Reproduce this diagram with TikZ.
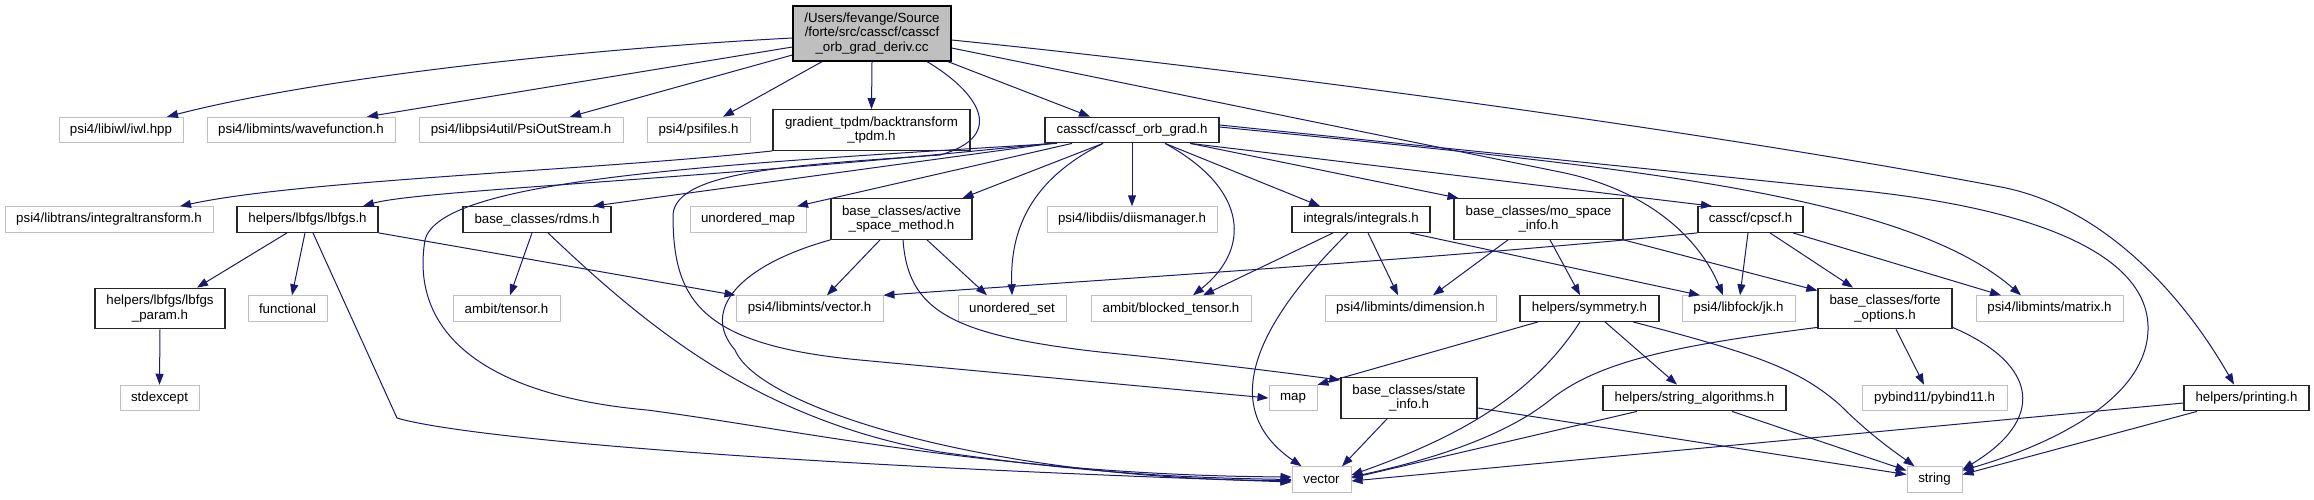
\documentclass[tikz,border=0pt]{standalone}
\usepackage{fontspec}
\setmainfont{Liberation Sans}
\usetikzlibrary{arrows.meta}
\definecolor{edgeblue}{HTML}{191970}
\definecolor{extgray}{HTML}{C0C0C0}
\definecolor{maingray}{HTML}{BFBFBF}
\newcommand\dfont{\fontsize{13.3pt}{14.5pt}\selectfont}
\tikzset{
  nd/.style={rectangle, inner sep=0pt, font=\dfont, align=center, text=black},
  ext/.style={nd, draw=extgray, line width=1pt, fill=white},
  loc/.style={nd, draw=black!85, line width=1.3pt, fill=white},
  mainnd/.style={nd, draw=black, line width=1.3pt, fill=maingray},
  one/.style={minimum height=25.5pt},
  two/.style={minimum height=40.5pt},
  edg/.style={draw=edgeblue, line width=1pt, -{Triangle[length=11pt,width=8pt]}, fill=none},
}
\begin{document}
\begin{tikzpicture}[x=1pt,y=-1pt]
\fill[white] (0,0) rectangle (2314,499);
\useasboundingbox (0,0) rectangle (2314,499);

% row A
\node[mainnd, minimum width=158pt, minimum height=55pt] (main) at (872,33.5) {/Users/fevange/Source\\/forte/src/casscf/casscf\\\_orb\_grad\_deriv.cc};
% row B
\node[ext, one, minimum width=124pt] (iwl) at (121,130) {psi4/libiwl/iwl.hpp};
\node[ext, one, minimum width=188pt] (wave) at (301,130) {psi4/libmints/wavefunction.h};
\node[ext, one, minimum width=204pt] (pso) at (521,130) {psi4/libpsi4util/PsiOutStream.h};
\node[ext, one, minimum width=103pt] (psifiles) at (698.5,130) {psi4/psifiles.h};
\node[loc, two, minimum width=197pt] (gtpdm) at (871.5,130) {gradient\_tpdm/backtransform\\\_tpdm.h};
\node[loc, one, minimum width=174pt] (cog) at (1132,130) {casscf/casscf\_orb\_grad.h};
% row C
\node[ext, one, minimum width=208pt] (itrans) at (109,219.5) {psi4/libtrans/integraltransform.h};
\node[loc, one, minimum width=141pt] (lbfgs) at (307.5,219.5) {helpers/lbfgs/lbfgs.h};
\node[loc, one, minimum width=148pt] (rdms) at (537,219.5) {base\_classes/rdms.h};
\node[ext, one, minimum width=116pt] (umap) at (748,219.5) {unordered\_map};
\node[loc, two, minimum width=141pt] (asm) at (901.5,219) {base\_classes/active\\\_space\_method.h};
\node[ext, one, minimum width=170pt] (diis) at (1132,219.5) {psi4/libdiis/diismanager.h};
\node[loc, one, minimum width=138pt] (integrals) at (1361,219.5) {integrals/integrals.h};
\node[loc, two, minimum width=169pt] (mospace) at (1538.5,219) {base\_classes/mo\_space\\\_info.h};
\node[loc, one, minimum width=105pt] (cpscf) at (1750.5,219.5) {casscf/cpscf.h};
% row D
\node[loc, two, minimum width=130pt] (lparam) at (160,308.5) {helpers/lbfgs/lbfgs\\\_param.h};
\node[ext, one, minimum width=79pt] (functional) at (287.5,308.5) {functional};
\node[ext, one, minimum width=107pt] (tensor) at (506.5,308.5) {ambit/tensor.h};
\node[ext, one, minimum width=147pt] (vech) at (809.5,308.5) {psi4/libmints/vector.h};
\node[ext, one, minimum width=108pt] (uset) at (1012,308.5) {unordered\_set};
\node[ext, one, minimum width=160pt] (blocked) at (1171,308.5) {ambit/blocked\_tensor.h};
\node[ext, one, minimum width=171pt] (dim) at (1410.5,308.5) {psi4/libmints/dimension.h};
\node[loc, one, minimum width=139pt] (sym) at (1589.5,308.5) {helpers/symmetry.h};
\node[ext, one, minimum width=113pt] (jk) at (1738.5,308.5) {psi4/libfock/jk.h};
\node[loc, two, minimum width=134pt] (forte) at (1885,308.5) {base\_classes/forte\\\_options.h};
\node[ext, one, minimum width=147pt] (matrix) at (2049.5,308.5) {psi4/libmints/matrix.h};
% row E
\node[ext, one, minimum width=79pt] (stdexcept) at (159.5,398) {stdexcept};
\node[ext, one, minimum width=48pt] (map) at (1293,398) {map};
\node[loc, two, minimum width=136pt] (stateinfo) at (1409,398) {base\_classes/state\\\_info.h};
\node[loc, one, minimum width=183pt] (stralg) at (1694.5,398) {helpers/string\_algorithms.h};
\node[ext, one, minimum width=145pt] (pybind) at (1934.5,398) {pybind11/pybind11.h};
\node[loc, one, minimum width=125pt] (printing) at (2246.5,398) {helpers/printing.h};
% row F
\node[ext, one, minimum width=59pt] (vector) at (1321.5,479.5) {vector};
\node[ext, one, minimum width=55pt] (string) at (1934.5,479.5) {string};

% main
\draw[edg] ([yshift=-4.5pt]main.west) .. controls (600,48) and (330,75) .. ([xshift=46pt]iwl.north);
\draw[edg] ([yshift=-13.5pt]main.west) -- ([xshift=66pt]wave.north);
\draw[edg] ([yshift=-21.5pt]main.west) -- ([xshift=49pt]pso.north);
\draw[edg] ([xshift=-50pt]main.south) -- ([xshift=24.5pt]psifiles.north);
\draw[edg] (main.south) -- (gtpdm.north);
\draw[edg] ([xshift=76pt]main.south) -- ([xshift=-42pt]cog.north);
\draw[edg] ([xshift=55pt]main.south) .. controls (975,90) and (1010,135) .. (940,155) .. controls (800,165) and (675,170) .. (673,215) .. controls (673,300) and (700,345) .. (860,360) -- (map.west);
\draw[edg] ([yshift=-14.5pt]main.east) -- (1560,172) .. controls (1650,190) and (1700,240) .. ([xshift=-15.5pt]jk.north);
\draw[edg] ([yshift=-6.5pt]main.east) .. controls (1250,70) and (1700,130) .. (2001,187) .. controls (2100,206) and (2180,290) .. ([xshift=-12.5pt]printing.north);
% gradient_tpdm
\draw[edg] (gtpdm.south west) .. controls (600,170) and (300,180) .. ([xshift=71pt]itrans.north);
% casscf_orb_grad
\draw[edg] ([xshift=-82pt]cog.south) .. controls (700,180) and (420,190) .. ([xshift=55.5pt]lbfgs.north);
\draw[edg] ([xshift=-80pt]cog.south) -- ([xshift=56pt]rdms.north);
\draw[edg] ([xshift=-60pt]cog.south) -- ([xshift=49pt]umap.north);
\draw[edg] ([xshift=-29pt]cog.south) -- ([xshift=61pt]asm.north);
\draw[edg] ([xshift=-75pt]cog.south) .. controls (700,165) and (440,180) .. (425,240) .. controls (410,330) and (480,395) .. (647,410) .. controls (800,430) and (1000,475) .. ([yshift=2.5pt]vector.west);
\draw[edg] ([xshift=-29pt]cog.south) .. controls (1030,180) and (1010,230) .. (uset.north);
\draw[edg] (cog.south) -- (diis.north);
\draw[edg] ([xshift=33pt]cog.south) .. controls (1250,190) and (1250,250) .. ([xshift=22pt]blocked.north);
\draw[edg] ([xshift=33pt]cog.south) -- ([xshift=-41pt]integrals.north);
\draw[edg] ([xshift=58pt]cog.south) -- ([xshift=-80pt]mospace.north);
\draw[edg] ([xshift=58pt]cog.south) -- ([xshift=-38.5pt]cpscf.north);
\draw[edg] ([yshift=5pt]cog.east) -- (1834,188) .. controls (2050,207) and (2150,260) .. (2148,330) .. controls (2146,400) and (2050,445) .. ([yshift=9pt]string.east);
\draw[edg] ([yshift=3pt]cog.east) .. controls (1600,165) and (1900,190) .. ([xshift=-28.5pt]matrix.north);
% active_space_method
\draw[edg] ([xshift=-21.5pt]asm.south) -- ([xshift=17.5pt]vech.north);
\draw[edg] ([xshift=25.5pt]asm.south) -- ([xshift=-25pt]uset.north);
\draw[edg] (asm.south west) .. controls (740,265) and (700,310) .. (735,350) .. controls (760,410) and (1000,480) .. ([yshift=-1pt]vector.west);
\draw[edg] ([xshift=1.5pt]asm.south) .. controls (908,310) and (950,335) .. (1100,352) .. controls (1200,362) and (1280,372) .. ([yshift=-3pt]stateinfo.north west);
% lbfgs
\draw[edg] ([xshift=-20.5pt]lbfgs.south) -- ([xshift=37pt]lparam.north);
\draw[edg] ([xshift=-2.5pt]lbfgs.south) -- ([xshift=4.5pt]functional.north);
\draw[edg] (lbfgs.south east) -- (vech.north west);
\draw[edg] ([xshift=5.5pt]lbfgs.south) -- (397,418) .. controls (450,434) and (700,462) .. ([yshift=-2.5pt]vector.west);
% rdms
\draw[edg] ([xshift=-5pt]rdms.south) -- ([xshift=3.5pt]tensor.north);
\draw[edg] ([xshift=11pt]rdms.south) .. controls (650,330) and (760,420) .. (940,452) .. controls (1100,475) and (1200,478) .. (vector.west);
% lbfgs_param
\draw[edg] (lparam.south) -- (stdexcept.north);
% integrals
\draw[edg] ([xshift=-28pt]integrals.south) -- ([xshift=32pt]blocked.north);
\draw[edg] ([xshift=7pt]integrals.south) -- ([xshift=-12.5pt]dim.north);
\draw[edg] ([xshift=49pt]integrals.south) -- ([xshift=-38.5pt]jk.north);
\draw[edg] ([xshift=-13pt]integrals.south) .. controls (1250,330) and (1220,410) .. ([xshift=-20pt]vector.north);
% mo_space_info
\draw[edg] ([xshift=-30.5pt]mospace.south) -- ([xshift=22.5pt]dim.north);
\draw[edg] ([xshift=11.5pt]mospace.south) -- ([xshift=-9.5pt]sym.north);
\draw[edg] (mospace.south east) -- ([yshift=-3pt]forte.north west);
% cpscf
\draw[edg] (cpscf.south west) .. controls (1450,258) and (1100,280) .. (vech.north east);
\draw[edg] ([xshift=-2.5pt]cpscf.south) -- ([xshift=1.5pt]jk.north);
\draw[edg] ([xshift=19.5pt]cpscf.south) -- ([xshift=-32pt]forte.north);
\draw[edg] ([xshift=42.5pt]cpscf.south) -- ([xshift=-48.5pt]matrix.north);
% symmetry
\draw[edg] ([xshift=-51.5pt]sym.south) -- (map.north east);
\draw[edg] ([xshift=-9.5pt]sym.south) .. controls (1530,400) and (1450,440) .. ([yshift=4.5pt]vector.east);
\draw[edg] ([xshift=15.5pt]sym.south) -- ([xshift=-17.5pt]stralg.north);
\draw[edg] ([xshift=43.5pt]sym.south) .. controls (1760,355) and (1800,370) .. (1840,405) .. controls (1870,435) and (1895,452) .. ([xshift=-20pt]string.north);
% forte_options
\draw[edg] ([yshift=2pt]forte.south west) .. controls (1680,345) and (1600,360) .. (1550,400) .. controls (1500,440) and (1420,462) .. ([yshift=2.5pt]vector.east);
\draw[edg] ([xshift=11pt]forte.south) -- ([xshift=-10.5pt]pybind.north);
\draw[edg] ([yshift=2pt]forte.south east) .. controls (2040,365) and (2045,420) .. ([yshift=10pt]string.east);
% state_info
\draw[edg] ([xshift=-22pt]stateinfo.south) -- ([xshift=20.5pt]vector.north);
\draw[edg] ([yshift=-10pt]stateinfo.east) -- ([yshift=5pt]string.west);
% string_algorithms
\draw[edg] ([xshift=-57.5pt]stralg.south) -- ([yshift=1.5pt]vector.east);
\draw[edg] ([xshift=37.5pt]stralg.south) -- ([yshift=9pt]string.west);
% printing
\draw[edg] ([yshift=-5pt]printing.west) -- ([yshift=-1.5pt]vector.east);
\draw[edg] ([xshift=-49.5pt]printing.south) -- ([yshift=5pt]string.east);
\end{tikzpicture}
\end{document}
